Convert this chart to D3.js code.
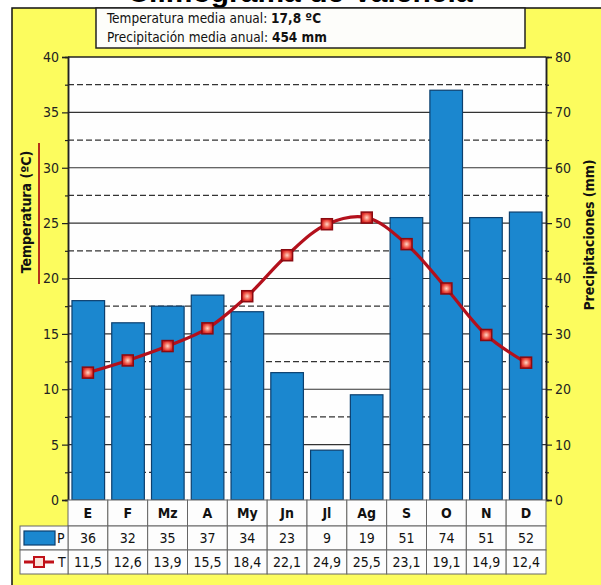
<!DOCTYPE html>
<html>
<head>
<meta charset="utf-8">
<script src="https://cdn.jsdelivr.net/npm/d3@7"></script>
<style>
  body { margin: 0; background: #fff; }
  svg text { font-family: "DejaVu Sans Condensed", "DejaVu Sans", sans-serif; font-stretch: condensed; }
</style>
</head>
<body>
<script>
var months = ["E", "F", "Mz", "A", "My", "Jn", "Jl", "Ag", "S", "O", "N", "D"];
var precip = [36, 32, 35, 37, 34, 23, 9, 19, 51, 74, 51, 52];
var temp = [11.5, 12.6, 13.9, 15.5, 18.4, 22.1, 24.9, 25.5, 23.1, 19.1, 14.9, 12.4];
var tempTicks = [0, 5, 10, 15, 20, 25, 30, 35, 40];
var precTicks = [0, 10, 20, 30, 40, 50, 60, 70, 80];
var infoLines = [["Temperatura media anual: ", "17,8 ºC"], ["Precipitación media anual: ", "454 mm"]];

var W = 601, H = 585;
var plot = {left: 68, right: 546, top: 57, bottom: 500};

var svg = d3.select("body").append("svg")
    .attr("width", W)
    .attr("height", H);

var defs = svg.append("defs");
var grad = defs.append("radialGradient").attr("id", "mk");
grad.append("stop").attr("offset", "0%").attr("stop-color", "#ffd8c8");
grad.append("stop").attr("offset", "60%").attr("stop-color", "#f06050");
grad.append("stop").attr("offset", "100%").attr("stop-color", "#d42020");

// yellow panel
svg.append("rect")
    .attr("x", 12).attr("y", 8)
    .attr("width", W).attr("height", H)
    .attr("fill", "#fcfc5e")
    .attr("stroke", "#111").attr("stroke-width", 1.5);

// title, cut by the top edge as in the picture
svg.append("text")
    .attr("x", 300).attr("y", 2)
    .attr("text-anchor", "middle")
    .style("font-family", "Liberation Sans, Arial, sans-serif")
    .style("font-stretch", "normal")
    .style("font-weight", "bold").style("font-size", "30px")
    .text("Climograma de Valencia");

// info box
svg.append("rect")
    .attr("x", 96).attr("y", 8)
    .attr("width", 429).attr("height", 40)
    .attr("fill", "#fdfdfa")
    .attr("stroke", "#222").attr("stroke-width", 1.5);

infoLines.forEach(function(l, i) {
  var t = svg.append("text")
      .attr("x", 107).attr("y", 23 + i * 19)
      .style("font-size", "13.5px").attr("fill", "#111");
  t.append("tspan").text(l[0]);
  t.append("tspan").style("font-weight", "bold").text(l[1]);
});

// scales
var x = d3.scaleBand().domain(months).range([plot.left, plot.right]).paddingInner(0.18).paddingOuter(0.1);
var xc = d3.scaleBand().domain(months).range([plot.left, plot.right]);
var yT = d3.scaleLinear().domain([0, 40]).range([plot.bottom, plot.top]);
var yP = d3.scaleLinear().domain([0, 80]).range([plot.bottom, plot.top]);

// plot background
svg.append("rect")
    .attr("x", plot.left).attr("y", plot.top)
    .attr("width", plot.right - plot.left).attr("height", plot.bottom - plot.top)
    .attr("fill", "#fefefe");

// grid: solid every 5, dashed in between
svg.append("g").selectAll("line")
    .data(d3.range(2.5, 40, 2.5))
    .join("line")
    .attr("x1", plot.left).attr("x2", plot.right)
    .attr("y1", function(d) { return yT(d); })
    .attr("y2", function(d) { return yT(d); })
    .attr("stroke", "#333")
    .attr("stroke-width", 1.2)
    .attr("stroke-dasharray", function(d) { return d % 5 === 0 ? null : "6,3"; });

svg.append("line")
    .attr("x1", plot.left).attr("x2", plot.right)
    .attr("y1", plot.top).attr("y2", plot.top)
    .attr("stroke", "#222").attr("stroke-width", 1.5);

// bars
svg.append("g").selectAll("rect")
    .data(precip)
    .join("rect")
    .attr("x", function(d, i) { return x(months[i]); })
    .attr("width", x.bandwidth())
    .attr("y", function(d) { return yP(d); })
    .attr("height", function(d) { return yP(0) - yP(d); })
    .attr("fill", "#1b87cf")
    .attr("stroke", "#0c3f6e").attr("stroke-width", 1.2);

// axes
svg.append("g")
    .attr("transform", "translate(" + plot.left + ",0)")
    .call(d3.axisLeft(yT).tickValues(tempTicks).tickSize(6).tickPadding(3));
svg.append("g")
    .attr("transform", "translate(" + plot.left + ",0)")
    .call(d3.axisLeft(yT).tickValues(d3.range(2.5, 40, 5)).tickSize(3).tickFormat(""));
svg.append("g")
    .attr("transform", "translate(" + plot.right + ",0)")
    .call(d3.axisRight(yP).tickValues(precTicks).tickSize(6).tickPadding(3));
svg.append("g")
    .attr("transform", "translate(" + plot.right + ",0)")
    .call(d3.axisRight(yP).tickValues(d3.range(5, 80, 10)).tickSize(3).tickFormat(""));

svg.selectAll(".domain").attr("stroke", "#222").attr("stroke-width", 1.5);
svg.selectAll(".tick line").attr("stroke", "#222").attr("stroke-width", 1.2);
svg.selectAll(".tick text").style("font-size", "14px").attr("fill", "#222");

// axis titles
svg.append("text")
    .attr("transform", "translate(31,212) rotate(-90)")
    .attr("text-anchor", "middle")
    .style("font-size", "14px").style("font-weight", "bold").attr("fill", "#111")
    .text("Temperatura (ºC)");
svg.append("line")
    .attr("x1", 39).attr("x2", 39).attr("y1", 143).attr("y2", 284)
    .attr("stroke", "#b5321b").attr("stroke-width", 2);
svg.append("text")
    .attr("transform", "translate(594,235) rotate(-90)")
    .attr("text-anchor", "middle")
    .style("font-size", "14px").style("font-weight", "bold").attr("fill", "#111")
    .text("Precipitaciones (mm)");

// temperature line
var line = d3.line()
    .x(function(d, i) { return xc(months[i]) + xc.bandwidth() / 2; })
    .y(function(d) { return yT(d); })
    .curve(d3.curveCatmullRom.alpha(0.5));

svg.append("path")
    .datum(temp)
    .attr("d", line)
    .attr("fill", "none")
    .attr("stroke", "#b3101c").attr("stroke-width", 3.2);

svg.append("g").selectAll("rect")
    .data(temp)
    .join("rect")
    .attr("x", function(d, i) { return xc(months[i]) + xc.bandwidth() / 2 - 5.5; })
    .attr("y", function(d) { return yT(d) - 5.5; })
    .attr("width", 11).attr("height", 11)
    .attr("fill", "url(#mk)")
    .attr("stroke", "#8a0a10").attr("stroke-width", 1.5);

// data table under the chart
var rows = [
  {y: 500, h: 26, cells: months, bold: true},
  {y: 526, h: 24, cells: precip.map(String), bold: false},
  {y: 550, h: 24, cells: temp.map(function(d) { return d.toFixed(1).replace(".", ","); }), bold: false}
];
var table = svg.append("g");
rows.forEach(function(r) {
  var g = table.append("g");
  g.selectAll("rect")
      .data(r.cells)
      .join("rect")
      .attr("x", function(d, i) { return xc(months[i]); })
      .attr("y", r.y).attr("width", xc.bandwidth()).attr("height", r.h)
      .attr("fill", "#fdfdfd")
      .attr("stroke", "#666").attr("stroke-width", 1);
  g.selectAll("text")
      .data(r.cells)
      .join("text")
      .attr("x", function(d, i) { return xc(months[i]) + xc.bandwidth() / 2; })
      .attr("y", r.y + r.h / 2 + 5)
      .attr("text-anchor", "middle")
      .style("font-size", "14px")
      .style("font-weight", r.bold ? "bold" : "normal")
      .attr("fill", "#111")
      .text(function(d) { return d; });
});

// legend cells
[526, 550].forEach(function(y0) {
  table.append("rect")
      .attr("x", 20).attr("y", y0).attr("width", plot.left - 20).attr("height", 24)
      .attr("fill", "#fdfdfd").attr("stroke", "#666").attr("stroke-width", 1);
});
table.append("rect")
    .attr("x", 24).attr("y", 531).attr("width", 31).attr("height", 14)
    .attr("fill", "#1b87cf").attr("stroke", "#0c3f6e").attr("stroke-width", 1.2);
table.append("text").attr("x", 57).attr("y", 543)
    .style("font-size", "14px").attr("fill", "#111").text("P");
table.append("line")
    .attr("x1", 24).attr("x2", 54).attr("y1", 562).attr("y2", 562)
    .attr("stroke", "#c01018").attr("stroke-width", 3);
table.append("rect")
    .attr("x", 34).attr("y", 557).attr("width", 10).attr("height", 10)
    .attr("fill", "#fbe0d8").attr("stroke", "#c01018").attr("stroke-width", 2);
table.append("text").attr("x", 58).attr("y", 567)
    .style("font-size", "14px").attr("fill", "#111").text("T");
</script>
</body>
</html>
